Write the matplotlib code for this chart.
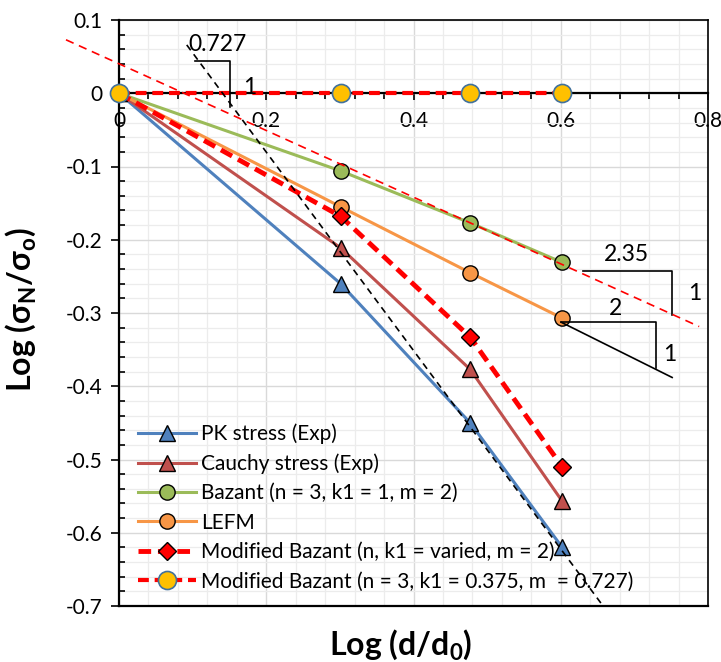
import matplotlib
matplotlib.use("Agg")
import matplotlib.pyplot as plt
from matplotlib.ticker import MultipleLocator, FuncFormatter

plt.rcParams['font.family'] = ['Lato', 'DejaVu Sans']
plt.rcParams['axes.unicode_minus'] = False
plt.rcParams['mathtext.fontset'] = 'custom'
plt.rcParams['mathtext.rm'] = 'Lato'
plt.rcParams['mathtext.bf'] = 'Lato:bold'

# ---- data ----
log_d = [0.0, 0.301, 0.477, 0.602]
pk_stress = [0.0, -0.260, -0.450, -0.620]
cauchy_stress = [0.0, -0.211, -0.377, -0.557]
bazant = [0.0, -0.106, -0.177, -0.231]
lefm = [0.0, -0.155, -0.245, -0.307]
mod_bazant_varied = [0.0, -0.168, -0.333, -0.510]
mod_bazant_0727 = [0.0, 0.0, 0.0, 0.0]

labels = ["PK stress (Exp)", "Cauchy stress (Exp)", "Bazant (n = 3, k1 = 1, m = 2)",
          "LEFM", "Modified Bazant (n, k1 = varied, m = 2)",
          "Modified Bazant (n = 3, k1 = 0.375, m  = 0.727)"]

# reference (trend) lines
trend_red_x = [-0.072, 0.788]
trend_red_y = [0.073, -0.3185]
trend_black_x = [0.092, 0.656]
trend_black_y = [0.066, -0.698]

# slope triangles
tri1_x = [0.103, 0.151, 0.151]
tri1_y = [0.0436, 0.0436, -0.0185]
tri2_x = [0.6006, 0.7296, 0.7296]
tri2_y = [-0.3126, -0.3126, -0.3756]
tri2_diag_x = [0.6006, 0.7513]
tri2_diag_y = [-0.3126, -0.388]
tri3_x = [0.630, 0.7513, 0.7513]
tri3_y = [-0.2432, -0.2432, -0.3034]

xlim = (0.0, 0.8)
ylim = (-0.7, 0.1)

fig = plt.figure(figsize=(7.21, 6.62), dpi=100)
ax = fig.add_axes([119/721, 1-606/662, (708-119)/721, (606-20)/662])
ax.set_xlim(*xlim)
ax.set_ylim(*ylim)

# grid
ax.xaxis.set_major_locator(MultipleLocator(0.2))
ax.xaxis.set_minor_locator(MultipleLocator(0.04))
ax.yaxis.set_major_locator(MultipleLocator(0.1))
ax.yaxis.set_minor_locator(MultipleLocator(0.02))
ax.grid(which='major', color='#d9d9d9', lw=1.0, zorder=0)
ax.grid(which='minor', color='#ececec', lw=0.9, zorder=0)
ax.set_axisbelow(True)

# spines
ax.spines['bottom'].set_position(('data', 0))
ax.spines['bottom'].set_linewidth(1.6)
ax.spines['left'].set_linewidth(1.6)
for s in ['top', 'right']:
    ax.spines[s].set_linewidth(1.2)
ax.plot([0, 1], [0, 0], transform=ax.transAxes, color='black', lw=1.6, clip_on=False, zorder=5)

ax.tick_params(axis='x', which='major', direction='out', length=5, width=1.2, labelsize=15, pad=8)
ax.tick_params(axis='x', which='minor', direction='out', length=4.5, width=1.2)
ax.tick_params(axis='y', which='major', direction='out', length=6, width=1.2, labelsize=15, pad=6)
ax.tick_params(axis='y', which='minor', direction='in', length=4, width=1.2)

def fmt(v, pos):
    v = round(v, 3)
    if abs(v) < 1e-9:
        return "0"
    return f"{v:g}"
ax.xaxis.set_major_formatter(FuncFormatter(fmt))
ax.yaxis.set_major_formatter(FuncFormatter(fmt))

# series
ms_tri = 11
ms_circ = 11
ax.plot(log_d, pk_stress, color='#4F81BD', lw=2.2, marker='^', ms=ms_tri,
        mfc='#4F81BD', mec='black', mew=1.0, label=labels[0], zorder=3)
ax.plot(log_d, cauchy_stress, color='#C0504D', lw=2.2, marker='^', ms=ms_tri,
        mfc='#C0504D', mec='black', mew=1.0, label=labels[1], zorder=3)
ax.plot(log_d, bazant, color='#9BBB59', lw=2.2, marker='o', ms=ms_circ,
        mfc='#9BBB59', mec='black', mew=1.0, label=labels[2], zorder=3)
ax.plot(log_d, lefm, color='#F79646', lw=2.2, marker='o', ms=ms_circ,
        mfc='#F79646', mec='black', mew=1.0, label=labels[3], zorder=3)
ax.plot(log_d, mod_bazant_varied, color='#FF0000', lw=3.5, ls=(0, (2.6, 1.4)), marker='D', ms=9.5,
        mfc='#FF0000', mec='black', mew=1.0, label=labels[4], zorder=3.5)
ax.plot(log_d, mod_bazant_0727, color='#FF0000', lw=3.0, ls=(0, (2.6, 1.4)), marker='o', ms=13,
        mfc='#FFC000', mec='#41719C', mew=1.2, label=labels[5], zorder=4, clip_on=False)

# trend lines
ax.plot(trend_red_x, trend_red_y, color='#FF0000', lw=1.2, ls=(0, (5, 3.5)), clip_on=False, zorder=4.2)
ax.plot(trend_black_x, trend_black_y, color='black', lw=1.2, ls=(0, (4, 3)), clip_on=False, zorder=4.2)

# slope triangles
for tx, ty in [(tri1_x, tri1_y), (tri2_x, tri2_y), (tri3_x, tri3_y)]:
    ax.plot(tx, ty, color='black', lw=1.2, zorder=4.1)
ax.plot(tri2_diag_x, tri2_diag_y, color='black', lw=1.2, zorder=4.1)

tfs = 16.5
ax.text(0.134, 0.066, "0.727", fontsize=tfs, ha='center', va='center', zorder=6)
ax.text(0.178, 0.0075, "1", fontsize=tfs, ha='center', va='center', zorder=6)
ax.text(0.675, -0.294, "2", fontsize=tfs, ha='center', va='center', zorder=6)
ax.text(0.748, -0.357, "1", fontsize=tfs, ha='center', va='center', zorder=6)
ax.text(0.689, -0.2199, "2.35", fontsize=tfs, ha='center', va='center', zorder=6)
ax.text(0.7815, -0.2729, "1", fontsize=tfs, ha='center', va='center', zorder=6)

# labels
ax.set_xlabel(r"Log (d/d$_\mathbf{0}$)", fontsize=23, fontweight='bold', labelpad=0)
ax.xaxis.set_label_coords(0.479, -0.036)
ax.set_ylabel(r"Log (σ$_\mathbf{N}$/σ$_\mathbf{o}$)", fontsize=23, fontweight='bold')
ax.yaxis.set_label_coords(-0.138, 0.505)

leg = ax.legend(loc='lower left', bbox_to_anchor=(0.008, 0.0), frameon=False, fontsize=15,
                handlelength=2.75, handletextpad=0.25, labelspacing=0.45, borderaxespad=0.3)
leg.set_zorder(7)

fig.savefig("out.png", dpi=100)
